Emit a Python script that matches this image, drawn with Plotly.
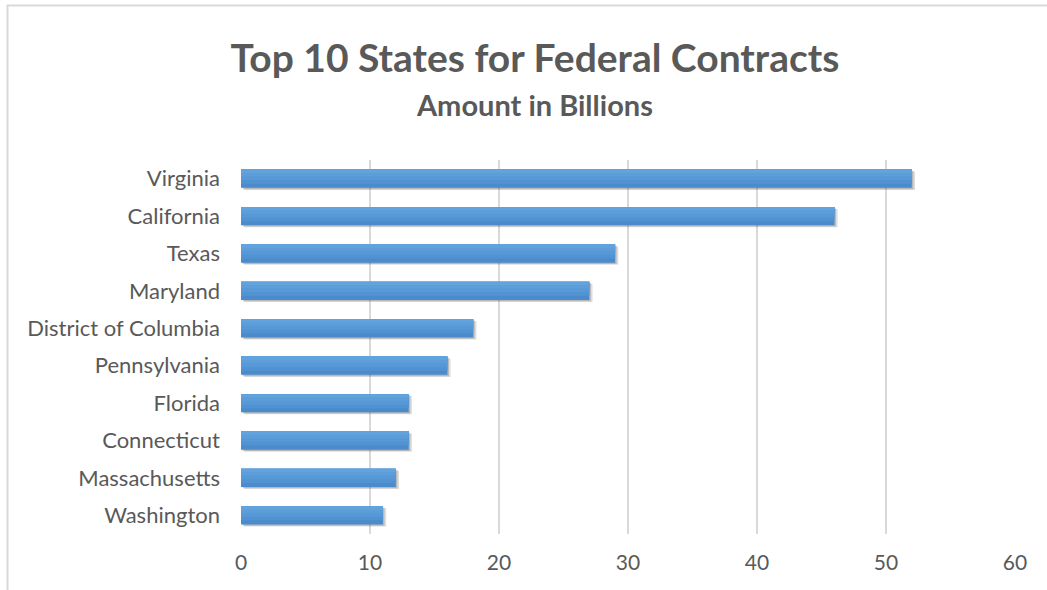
import plotly.graph_objects as go

states = ["Virginia", "California", "Texas", "Maryland", "District of Columbia",
          "Pennsylvania", "Florida", "Connecticut", "Massachusetts", "Washington"]
amounts = [52, 46, 29, 27, 18, 16, 13, 13, 12, 11]
x_ticks = [0, 10, 20, 30, 40, 50, 60]

FONT = "Lato"
GREY = "#595959"

fig = go.Figure()
# soft shadow (offset down/right)
fig.add_trace(go.Bar(y=states, x=amounts, orientation="h",
                     marker=dict(color="rgba(70,70,70,0.18)", line=dict(width=0)),
                     width=0.49, offset=-0.19, base=0.25, hoverinfo="skip"))
fig.add_trace(go.Bar(y=states, x=amounts, orientation="h",
                     marker=dict(color="rgba(70,70,70,0.25)", line=dict(width=0)),
                     width=0.49, offset=-0.21, base=0.12, hoverinfo="skip"))
# main bar (darker bottom)
fig.add_trace(go.Bar(y=states, x=amounts, orientation="h",
                     marker=dict(color="#4b8bcc", line=dict(width=0)),
                     width=0.49, offset=-0.245))
# gradient bands
band_colors = ["#5193d2", "#5799d6", "#5d9eda", "#63a3dd"]
band_widths = [0.38, 0.28, 0.18, 0.09]
for c, w in zip(band_colors, band_widths):
    fig.add_trace(go.Bar(y=states, x=amounts, orientation="h",
                         marker=dict(color=c, line=dict(width=0)),
                         width=w, offset=-0.245, hoverinfo="skip"))

fig.update_layout(
    width=1047, height=590,
    barmode="overlay",
    showlegend=False,
    plot_bgcolor="white", paper_bgcolor="white",
    margin=dict(l=241, r=32, t=160, b=56),
    font=dict(family=FONT, color=GREY, size=18),
    title=dict(text="<b>Top 10 States for Federal Contracts</b>",
               x=0.511, xanchor="center", y=1 - 58 / 590, yanchor="middle",
               yref="container", font=dict(family=FONT, size=39, color=GREY)),
    annotations=[dict(text="<b>Amount in Billions</b>", xref="paper", yref="paper",
                      x=(534 - 241) / 774, y=(534 - 104) / 374, xanchor="center",
                      yanchor="middle", showarrow=False,
                      font=dict(family=FONT, size=29, color=GREY))],
    shapes=[dict(type="rect", xref="paper", yref="paper",
                 x0=(7.5 - 241) / 774, x1=1.2, y0=-0.4, y1=(534 - 5.5) / 374,
                 line=dict(color="#d9d9d9", width=2), fillcolor="rgba(0,0,0,0)",
                 layer="below")],
    xaxis=dict(range=[0, 60], tickvals=x_ticks, showgrid=True, gridcolor="#d9d9d9",
               gridwidth=1.5, zeroline=False, showline=False, ticks="",
               ticklabelstandoff=14, tickfont=dict(size=21, color=GREY)),
    yaxis=dict(categoryorder="array", categoryarray=states, autorange="reversed",
               showgrid=False, zeroline=False, showline=False, ticks="",
               ticklabelstandoff=20, tickfont=dict(size=22, color=GREY)),
)

fig.write_html("out.html")
